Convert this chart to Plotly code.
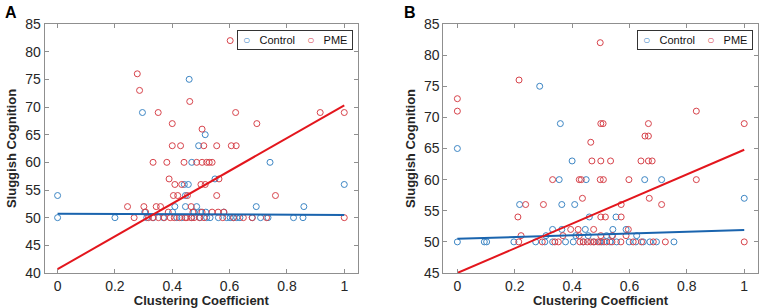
import plotly.graph_objects as go
from plotly.subplots import make_subplots

# ---------------- Panel A data ----------------
a_ctrl_x = [0.296, 0.459, 0.515, 0.492, 0.468, 0.741, 0.549, 0.442, 0.456, 0.0, 0.446, 1.0,
            0.409, 0.446, 0.485, 0.693, 0.859,
            0.304, 0.401, 0.476, 0.499, 0.517, 0.58,
            0.0, 0.2, 0.311, 0.334, 0.369, 0.416, 0.433, 0.468, 0.497, 0.52, 0.532, 0.561,
            0.59, 0.602, 0.613, 0.625, 0.636, 0.679, 0.708, 0.734, 0.823, 0.856]
a_ctrl_y = [69, 75, 65, 63, 60, 60, 57, 56, 56, 54, 54, 56,
            52, 52, 52, 52, 52,
            51, 51, 51, 51, 51, 51,
            50, 50, 50, 50, 50, 50, 50, 50, 50, 50, 50, 50,
            50, 50, 50, 50, 50, 50, 50, 50, 50, 50]

a_pme_x = [0.278, 0.286, 0.351, 0.621, 0.916, 1.0, 0.461, 0.602, 0.40, 0.695, 0.504,
           0.40, 0.429, 0.51, 0.555, 0.606, 0.623,
           0.333, 0.381, 0.441, 0.485, 0.504, 0.520, 0.529, 0.539,
           0.389, 0.563,
           0.409, 0.433, 0.50, 0.515,
           0.404, 0.419, 0.453, 0.555, 0.76,
           0.244, 0.301, 0.344, 0.359, 0.466,
           0.307, 0.386, 0.472, 0.504, 0.539, 0.56, 0.58,
           0.267, 0.317, 0.332, 0.352, 0.372, 0.393, 0.407, 0.425, 0.445, 0.451, 0.466,
           0.476, 0.495, 0.511, 0.576, 0.614, 0.648, 0.679, 0.729, 1.0]
a_pme_y = [76, 73, 69, 69, 69, 69, 71, 82, 67, 67, 66,
           63, 63, 63, 63, 63, 63,
           60, 60, 60, 60, 60, 60, 60, 60,
           57, 57,
           56, 56, 56, 56,
           54, 54, 54, 54, 54,
           52, 52, 52, 52, 52,
           51, 51, 51, 51, 51, 51, 51,
           50, 50, 50, 50, 50, 50, 50, 50, 50, 50, 50,
           50, 50, 50, 50, 50, 50, 50, 50, 50]

# fitted lines: (intercept, slope)
a_fit_ctrl = (50.7, -0.2)
a_fit_pme = (40.7, 29.6)

# ---------------- Panel B data ----------------
b_ctrl_x = [0.287, 0.359, 0.0,
            0.40,
            0.355, 0.449, 0.653, 0.712,
            1.0,
            0.217, 0.364, 0.409,
            0.46, 0.553,
            0.332, 0.364, 0.446, 0.542, 0.588,
            0.309, 0.413, 0.456, 0.52, 0.539, 0.625,
            0.0, 0.094, 0.102, 0.197, 0.273, 0.305, 0.332, 0.377, 0.404, 0.439, 0.474,
            0.497, 0.511, 0.532, 0.555, 0.599, 0.622, 0.648, 0.671, 0.694, 0.755]
b_ctrl_y = [75, 69, 65,
            63,
            60, 60, 60, 60,
            57,
            56, 56, 56,
            54, 54,
            52, 52, 52, 52, 52,
            51, 51, 51, 51, 51, 51,
            50, 50, 50, 50, 50, 50, 50, 50, 50, 50, 50,
            50, 50, 50, 50, 50, 50, 50, 50, 50, 50]

b_pme_x = [0.0, 0.0, 0.215, 0.498, 0.50, 0.508, 0.666, 0.654, 0.666, 0.833, 1.0, 0.465,
           0.469, 0.50, 0.534, 0.64, 0.666, 0.679,
           0.332, 0.425, 0.432, 0.498, 0.509, 0.598, 0.833,
           0.436, 0.669,
           0.238, 0.30, 0.571, 0.712,
           0.211, 0.50, 0.516, 0.571,
           0.395, 0.421, 0.475, 0.596,
           0.222, 0.368, 0.425, 0.50, 0.541, 0.588,
           0.214, 0.296, 0.340, 0.352, 0.427, 0.439, 0.453, 0.465, 0.477, 0.49,
           0.503, 0.52, 0.539, 0.57, 0.613, 0.642, 0.683, 0.725, 1.0]
b_pme_y = [73, 71, 76, 82, 69, 69, 69, 67, 67, 71, 69, 66,
           63, 63, 63, 63, 63, 63,
           60, 60, 60, 60, 60, 60, 60,
           57, 57,
           56, 56, 56, 56,
           54, 54, 54, 54,
           52, 52, 52, 52,
           51, 51, 51, 51, 51, 51,
           50, 50, 50, 50, 50, 50, 50, 50, 50, 50,
           50, 50, 50, 50, 50, 50, 50, 50, 50]

b_fit_ctrl = (50.5, 1.4)
b_fit_pme = (45.0, 19.8)

x_ticks = [0, 0.2, 0.4, 0.6, 0.8, 1]
x_tick_labels = ["0", "0.2", "0.4", "0.6", "0.8", "1"]
series_names = ["Control", "PME"]

CTRL_PT = "#3d86c4"
PME_PT = "#d7434b"
CTRL_LN = "#1a64ae"
PME_LN = "#e3161d"
FONT = "Arial, Liberation Sans, sans-serif"

fig = make_subplots(rows=1, cols=2, horizontal_spacing=0.1)

panels = [
    (1, a_ctrl_x, a_ctrl_y, a_pme_x, a_pme_y, a_fit_ctrl, a_fit_pme),
    (2, b_ctrl_x, b_ctrl_y, b_pme_x, b_pme_y, b_fit_ctrl, b_fit_pme),
]
for col, cx, cy, px, py, fc, fp in panels:
    fig.add_trace(go.Scatter(x=cx, y=cy, mode="markers", name=series_names[0],
                             marker=dict(symbol="circle-open", size=6, color=CTRL_PT,
                                         line=dict(width=1, color=CTRL_PT)),
                             showlegend=False), row=1, col=col)
    fig.add_trace(go.Scatter(x=px, y=py, mode="markers", name=series_names[1],
                             marker=dict(symbol="circle-open", size=6, color=PME_PT,
                                         line=dict(width=1, color=PME_PT)),
                             showlegend=False), row=1, col=col)
    fig.add_trace(go.Scatter(x=[0, 1], y=[fc[0], fc[0] + fc[1]], mode="lines",
                             line=dict(color=CTRL_LN, width=2), showlegend=False),
                  row=1, col=col)
    fig.add_trace(go.Scatter(x=[0, 1], y=[fp[0], fp[0] + fp[1]], mode="lines",
                             line=dict(color=PME_LN, width=2), showlegend=False),
                  row=1, col=col)

axis_common = dict(showline=True, linecolor="#8f8f8f", linewidth=1, mirror="ticks",
                   ticks="inside", ticklen=4, tickcolor="#8f8f8f", showgrid=False,
                   zeroline=False, tickfont=dict(size=14, color="#262626", family=FONT))

fig.update_xaxes(**axis_common, tickvals=x_ticks, ticktext=x_tick_labels,
                 title=dict(text="<b>Clustering Coefficient</b>", standoff=3,
                            font=dict(size=13, color="#262626", family=FONT)))
fig.update_yaxes(**axis_common, dtick=5,
                 title=dict(text="<b>Sluggish Cognition</b>", standoff=5,
                            font=dict(size=13, color="#262626", family=FONT)))

fig.update_xaxes(range=[-0.045, 1.048], domain=[0.0588, 0.4711], row=1, col=1)
fig.update_xaxes(range=[-0.049, 1.047], domain=[0.5833, 0.997], row=1, col=2)
fig.update_yaxes(range=[40, 85], row=1, col=1)
fig.update_yaxes(range=[45, 85], row=1, col=2)

# legend boxes (one per panel), drawn as bordered text
NB = "\u00a0"
def legend_text():
    circ = "<span style='font-size:12px'>\u25cb</span>"
    return (NB + f"<span style='color:{CTRL_PT}'>{circ}</span>" + NB * 3 + series_names[0]
            + NB * 4 + f"<span style='color:{PME_PT}'>{circ}</span>" + NB * 3 + series_names[1]
            + NB)

for xr in ["x domain", "x2 domain"]:
    fig.add_annotation(text=legend_text(), xref=xr, yref="paper", x=0.984, y=0.976,
                       xanchor="right", yanchor="top", showarrow=False, align="left",
                       bgcolor="white", bordercolor="#333333", borderwidth=1, borderpad=2,
                       font=dict(size=11, color="#111111", family=FONT))

fig.add_annotation(text="<b>A</b>", x=3 / 760, y=1.0, xref="paper", yref="paper",
                   xanchor="left", yanchor="bottom", yshift=1, showarrow=False,
                   font=dict(size=16, color="black", family=FONT))
fig.add_annotation(text="<b>B</b>", x=402 / 760, y=1.0, xref="paper", yref="paper",
                   xanchor="left", yanchor="bottom", yshift=1, showarrow=False,
                   font=dict(size=16, color="black", family=FONT))

fig.update_layout(width=760, height=308, margin=dict(l=0, r=0, t=24, b=35),
                  plot_bgcolor="white", paper_bgcolor="white",
                  font=dict(family=FONT))

fig.write_html("out.html", config={"displayModeBar": False},
               post_script="document.body.style.margin='0';")
